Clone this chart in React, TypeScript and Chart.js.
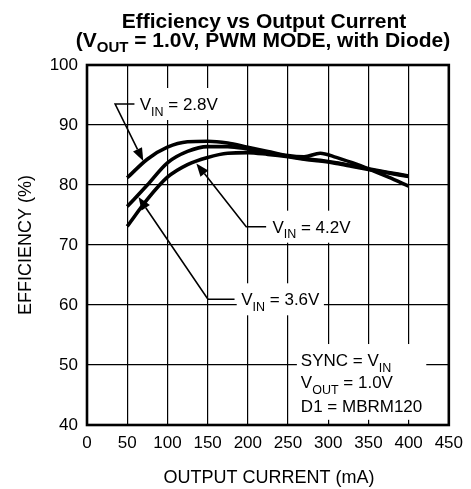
import React, { useEffect, useRef } from 'react';
import { Chart, registerables } from 'chart.js';

Chart.register(...registerables);

const FONT = '"Liberation Sans", Arial, Helvetica, sans-serif';

// ---- data ----
const currentMA = [50, 75, 100, 125, 150, 175, 200, 225, 250, 270, 290, 310, 330, 350, 375, 400];
const effVin28 = [81.2, 84.3, 86.3, 87.2, 87.3, 87.0, 86.3, 85.6, 84.9, 84.7, 85.3, 84.6, 83.7, 82.7, 81.3, 79.8];
const effVin36 = [76.4, 80.0, 83.7, 85.6, 86.4, 86.4, 86.0, 85.4, 84.8, 84.4, 84.1, 83.7, 83.2, 82.7, 82.1, 81.5];
const effVin42 = [73.1, 77.6, 81.3, 83.4, 84.6, 85.3, 85.4, 85.1, 84.7, 84.3, 84.0, 83.6, 83.1, 82.6, 82.0, 81.4];

const xMin = 0;
const xMax = 450;
const xStep = 50;
const yMin = 40;
const yMax = 100;
const yStep = 10;

const titleLine1 = 'Efficiency vs Output Current';
type Seg = { t: string; sub?: boolean };
const titleLine2: Seg[] = [{ t: '(V' }, { t: 'OUT', sub: true }, { t: ' = 1.0V, PWM MODE, with Diode)' }];
const xTitle = 'OUTPUT CURRENT (mA)';
const yTitle = 'EFFICIENCY (%)';

// callouts: anchors in data units (mA, %)
const callouts = [
  { segs: [{ t: 'V' }, { t: 'IN', sub: true }, { t: ' = 2.8V' }] as Seg[], elbow: [35, 93.5], lineEndX: 59, textX: 65.5, tip: [70, 84.0] },
  { segs: [{ t: 'V' }, { t: 'IN', sub: true }, { t: ' = 4.2V' }] as Seg[], elbow: [198, 73.05], lineEndX: 222.8, textX: 230.6, tip: [136, 83.6] },
  { segs: [{ t: 'V' }, { t: 'IN', sub: true }, { t: ' = 3.6V' }] as Seg[], elbow: [150.4, 60.95], lineEndX: 183.5, textX: 191.8, tip: [64, 78.0] },
];

const noteLines: Seg[][] = [
  [{ t: 'SYNC = V' }, { t: 'IN', sub: true }],
  [{ t: 'V' }, { t: 'OUT', sub: true }, { t: ' = 1.0V' }],
  [{ t: 'D1 = MBRM120' }],
];
const noteX = 266;
const noteYs = [49.8, 46.1, 42.2];

function measureSegs(ctx: CanvasRenderingContext2D, segs: Seg[], size: number, subSize: number, weight: string) {
  let w = 0;
  for (const s of segs) {
    ctx.font = `${weight} ${s.sub ? subSize : size}px ${FONT}`;
    w += ctx.measureText(s.t).width;
  }
  return w;
}

function drawSegs(
  ctx: CanvasRenderingContext2D,
  segs: Seg[],
  x: number,
  y: number,
  size: number,
  subSize: number,
  subDrop: number,
  weight: string,
  align: 'left' | 'center'
) {
  const total = measureSegs(ctx, segs, size, subSize, weight);
  let cx = align === 'center' ? x - total / 2 : x;
  ctx.textAlign = 'left';
  ctx.textBaseline = 'alphabetic';
  for (const s of segs) {
    ctx.font = `${weight} ${s.sub ? subSize : size}px ${FONT}`;
    ctx.fillText(s.t, cx, s.sub ? y + subDrop : y);
    cx += ctx.measureText(s.t).width;
  }
  return total;
}

const overlayPlugin = {
  id: 'overlay',
  afterDraw(chart: any) {
    const ctx: CanvasRenderingContext2D = chart.ctx;
    const xs = chart.scales.x;
    const ys = chart.scales.y;
    const area = chart.chartArea;
    const px = (v: number) => xs.getPixelForValue(v);
    const py = (v: number) => ys.getPixelForValue(v);
    ctx.save();
    ctx.fillStyle = '#000';
    ctx.strokeStyle = '#000';

    // frame
    ctx.lineWidth = 2.6;
    ctx.strokeRect(area.left, area.top, area.right - area.left, area.bottom - area.top);

    // title
    ctx.font = `bold 21px ${FONT}`;
    ctx.textAlign = 'center';
    ctx.textBaseline = 'alphabetic';
    ctx.fillText(titleLine1, 264, 28);
    drawSegs(ctx, titleLine2, 263, 46.5, 21, 15, 5, 'bold', 'center');

    // axis titles
    ctx.font = `18px ${FONT}`;
    ctx.textAlign = 'center';
    ctx.fillText(xTitle, (area.left + area.right) / 2 + 1, 482.5);
    ctx.save();
    ctx.translate(31, (area.top + area.bottom) / 2);
    ctx.rotate(-Math.PI / 2);
    ctx.fillText(yTitle, 0, 0);
    ctx.restore();

    // callouts
    const size = 17;
    const cap = size * 0.716;
    for (const c of callouts) {
      const ex = px(c.elbow[0]);
      const ey = py(c.elbow[1]);
      const lx = px(c.lineEndX);
      const tx = px(c.textX);
      const w = measureSegs(ctx, c.segs, size, 12.5, 'normal');
      // white box
      ctx.fillStyle = '#fff';
      ctx.fillRect(tx - 4.5, ey - 16, w + 9, 32);
      ctx.fillStyle = '#000';
      // leader
      const tipX = px(c.tip[0]);
      const tipY = py(c.tip[1]);
      const ang = Math.atan2(tipY - ey, tipX - ex);
      const headLen = 13;
      const headW = 5;
      const bx = tipX - headLen * Math.cos(ang);
      const by = tipY - headLen * Math.sin(ang);
      ctx.lineWidth = 1.6;
      ctx.beginPath();
      ctx.moveTo(lx, ey);
      ctx.lineTo(ex, ey);
      ctx.lineTo(bx, by);
      ctx.stroke();
      ctx.beginPath();
      ctx.moveTo(tipX, tipY);
      ctx.lineTo(bx + headW * Math.sin(ang), by - headW * Math.cos(ang));
      ctx.lineTo(bx - headW * Math.sin(ang), by + headW * Math.cos(ang));
      ctx.closePath();
      ctx.fill();
      drawSegs(ctx, c.segs, tx, ey + cap / 2, size, 12.5, 5.5, 'normal', 'left');
    }

    // note box
    const nx = px(noteX);
    const nys = noteYs.map(py);
    let maxW = 0;
    for (const l of noteLines) maxW = Math.max(maxW, measureSegs(ctx, l, size, 12.5, 'normal'));
    ctx.fillStyle = '#fff';
    ctx.fillRect(nx - 4, nys[0] - cap - 10, maxW + 8, nys[2] - nys[0] + cap + 18);
    ctx.fillStyle = '#000';
    noteLines.forEach((l, i) => drawSegs(ctx, l, nx, nys[i], size, 12.5, 5.5, 'normal', 'left'));

    ctx.restore();
  },
};

export default function App() {
  const ref = useRef<HTMLCanvasElement | null>(null);
  useEffect(() => {
    if (!ref.current) return;
    const mk = (label: string, vals: number[]) => ({
      label,
      data: currentMA.map((x, i) => ({ x, y: vals[i] })),
      borderColor: '#000',
      backgroundColor: '#000',
      borderWidth: 3.6,
      pointRadius: 0,
      tension: 0.4,
      cubicInterpolationMode: 'monotone' as const,
      fill: false,
    });
    const chart = new Chart(ref.current, {
      type: 'line',
      data: {
        datasets: [mk('VIN = 2.8V', effVin28), mk('VIN = 3.6V', effVin36), mk('VIN = 4.2V', effVin42)],
      },
      options: {
        animation: false,
        responsive: false,
        maintainAspectRatio: false,
        devicePixelRatio: 1,
        layout: { padding: { top: 65, right: 21, left: 0, bottom: 0 } },
        plugins: { legend: { display: false }, title: { display: false }, tooltip: { enabled: false } },
        scales: {
          x: {
            type: 'linear',
            min: xMin,
            max: xMax,
            ticks: { stepSize: xStep, color: '#000', font: { family: FONT, size: 17 }, padding: 8, maxRotation: 0 },
            grid: { color: '#000', lineWidth: 1.2, drawTicks: false },
            border: { display: false },
            afterFit: (s: any) => {
              s.height = 64;
            },
          },
          y: {
            type: 'linear',
            min: yMin,
            max: yMax,
            ticks: { stepSize: yStep, color: '#000', font: { family: FONT, size: 17 }, padding: 9 },
            grid: { color: '#000', lineWidth: 1.2, drawTicks: false },
            border: { display: false },
            afterFit: (s: any) => {
              s.width = 87;
            },
          },
        },
      },
      plugins: [overlayPlugin],
    });
    return () => chart.destroy();
  }, []);
  return (
    <div style={{ position: 'fixed', left: 0, top: 0, width: 471, height: 489, background: '#fff' }}>
      <canvas ref={ref} width={471} height={489} style={{ width: 471, height: 489 }} />
    </div>
  );
}
